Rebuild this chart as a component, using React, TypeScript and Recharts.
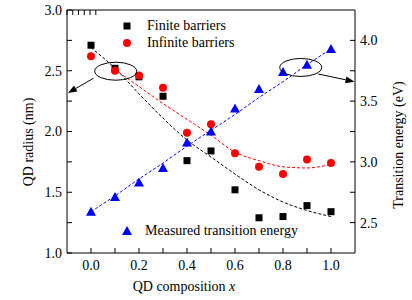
import { ComposedChart, Scatter, Line, XAxis, YAxis, ReferenceDot, ReferenceLine, Label } from 'recharts';

const composition = [0, 0.1, 0.2, 0.3, 0.4, 0.5, 0.6, 0.7, 0.8, 0.9, 1.0];
const finiteBarriers = [2.71, 2.52, 2.45, 2.29, 1.76, 1.84, 1.52, 1.29, 1.30, 1.39, 1.34];
const infiniteBarriers = [2.62, 2.50, 2.46, 2.36, 1.99, 2.06, 1.82, 1.71, 1.65, 1.77, 1.74];
const measuredEnergy = [2.59, 2.71, 2.83, 2.95, 3.16, 3.25, 3.44, 3.60, 3.74, 3.80, 3.93];
// dashed fit curves
const finiteFit = [2.69, 2.52, 2.31, 2.11, 1.93, 1.79, 1.65, 1.52, 1.42, 1.35, 1.30];
const infiniteFit = [null, 2.51, 2.37, 2.23, 2.10, 1.97, 1.83, 1.76, 1.71, 1.70, 1.73];
const energyFit = [2.59, 2.72, 2.86, 2.99, 3.13, 3.26, 3.39, 3.53, 3.66, 3.80, 3.93];

const xTicks = [0, 0.1, 0.2, 0.3, 0.4, 0.5, 0.6, 0.7, 0.8, 0.9, 1.0];
const radiusTicks = [1.0, 1.25, 1.5, 1.75, 2.0, 2.25, 2.5, 2.75, 3.0];
const energyTicks = [2.5, 2.75, 3.0, 3.25, 3.5, 3.75, 4.0];

const data = composition.map((x, i) => ({
  x,
  finite: finiteBarriers[i],
  infinite: infiniteBarriers[i],
  measured: measuredEnergy[i],
  finiteFit: finiteFit[i],
  infiniteFit: infiniteFit[i],
  energyFit: energyFit[i],
}));

const FONT = 'Liberation Serif, Times New Roman, serif';
const tickStyle = { fontSize: 14, fill: '#000', fontFamily: FONT };

const Square = (p: any) => <rect x={p.cx - 3.5} y={p.cy - 3.5} width={7} height={7} fill="#000" />;
const Dot = (p: any) => <circle cx={p.cx} cy={p.cy} r={4} fill="#ff0000" />;
const Tri = (p: any) => (
  <polygon points={`${p.cx},${p.cy - 5} ${p.cx + 5},${p.cy + 4} ${p.cx - 5},${p.cy + 4}`} fill="#0000ff" />
);
const Ellipse = (p: any) => <ellipse cx={p.cx} cy={p.cy} rx={21} ry={9} fill="none" stroke="#000" strokeWidth={1} />;

const Arrow = (p: any) => {
  const { x1, y1, x2, y2 } = p;
  const a = Math.atan2(y2 - y1, x2 - x1);
  const L = 9, W = 3.5;
  const bx = x2 - L * Math.cos(a);
  const by = y2 - L * Math.sin(a);
  const pts = `${x2},${y2} ${bx - W * Math.sin(a)},${by + W * Math.cos(a)} ${bx + W * Math.sin(a)},${by - W * Math.cos(a)}`;
  return (
    <g>
      <line x1={x1} y1={y1} x2={bx} y2={by} stroke="#000" strokeWidth={1} />
      <polygon points={pts} fill="#000" />
    </g>
  );
};

const fmtX = (v: number) => (Math.round(v * 10) % 2 === 0 ? v.toFixed(1) : '');
const fmtHalf = (v: number) => (Math.round(v * 100) % 50 === 0 ? v.toFixed(1) : '');

export default function App() {
  return (
    <div style={{ position: 'absolute', left: 0, top: 0, width: 412, height: 300, fontFamily: FONT }}>
      <ComposedChart width={412} height={300} data={data} margin={{ top: 9, right: 56, bottom: 46, left: 66 }}>
        <XAxis
          dataKey="x"
          type="number"
          domain={[-0.1, 1.1]}
          ticks={xTicks}
          tickFormatter={fmtX}
          tickSize={-5}
          tickMargin={12}
          height={1}
          stroke="#000"
          tick={tickStyle}
          allowDataOverflow
        >
          <Label
            content={() => (
              <text x={184} y={291} textAnchor="middle" fontSize={14} fontFamily={FONT} fill="#000">
                QD composition <tspan fontStyle="italic">x</tspan>
              </text>
            )}
          />
        </XAxis>
        <XAxis
          xAxisId="top"
          orientation="top"
          type="number"
          domain={[-0.1, 1.1]}
          ticks={xTicks}
          tickFormatter={() => ''}
          tickSize={-5}
          height={1}
          stroke="#000"
          allowDataOverflow
        />
        <YAxis
          yAxisId="left"
          domain={[1.0, 3.0]}
          ticks={radiusTicks}
          tickFormatter={fmtHalf}
          tickSize={-5}
          tickMargin={10}
          width={1}
          stroke="#000"
          tick={tickStyle}
          allowDataOverflow
        >
          <Label
            content={() => (
              <text x={28} y={142} textAnchor="middle" dominantBaseline="central" transform="rotate(-90, 28, 142)" fontSize={14} fontFamily={FONT} fill="#000">
                QD radius (nm)
              </text>
            )}
          />
        </YAxis>
        <YAxis
          yAxisId="right"
          orientation="right"
          domain={[2.25, 4.25]}
          ticks={energyTicks}
          tickFormatter={fmtHalf}
          tickSize={-5}
          tickMargin={10}
          width={1}
          stroke="#000"
          tick={tickStyle}
          allowDataOverflow
        >
          <Label
            content={() => (
              <text x={398} y={145} textAnchor="middle" dominantBaseline="central" transform="rotate(-90, 398, 145)" fontSize={14} fontFamily={FONT} fill="#000">
                Transition energy (eV)
              </text>
            )}
          />
        </YAxis>

        <Line yAxisId="left" dataKey="finiteFit" type="monotone" stroke="#000" strokeWidth={1} strokeDasharray="3 2" dot={false} isAnimationActive={false} />
        <Line yAxisId="left" dataKey="infiniteFit" type="monotone" stroke="#ff0000" strokeWidth={1} strokeDasharray="3 2" dot={false} isAnimationActive={false} />
        <Line yAxisId="right" dataKey="energyFit" type="linear" stroke="#0000ff" strokeWidth={1} strokeDasharray="3 2" dot={false} isAnimationActive={false} />

        <Scatter yAxisId="left" dataKey="finite" shape={Square} isAnimationActive={false} />
        <Scatter yAxisId="left" dataKey="infinite" shape={Dot} isAnimationActive={false} />
        <Scatter yAxisId="right" dataKey="measured" shape={Tri} isAnimationActive={false} />

        <ReferenceDot yAxisId="left" x={0.103} y={2.496} shape={Ellipse} />
        <ReferenceDot yAxisId="right" x={0.874} y={3.777} shape={Ellipse} />
        <ReferenceLine yAxisId="left" segment={[{ x: 0.01, y: 2.438 }, { x: -0.096, y: 2.317 }]} shape={Arrow} ifOverflow="visible" />
        <ReferenceLine yAxisId="right" segment={[{ x: 0.947, y: 3.723 }, { x: 1.098, y: 3.66 }]} shape={Arrow} ifOverflow="visible" />
      </ComposedChart>

      <div style={{ position: 'absolute', left: 0, top: 0, width: 412, height: 300, pointerEvents: 'none', fontSize: 14, color: '#000' }}>
        <svg style={{ position: 'absolute', left: 122, top: 21 }} width={10} height={10}>
          <rect x={1.5} y={1.5} width={7} height={7} fill="#000" />
        </svg>
        <div style={{ position: 'absolute', left: 147, top: 17, lineHeight: '18px' }}>Finite barriers</div>
        <svg style={{ position: 'absolute', left: 122, top: 38 }} width={10} height={10}>
          <circle cx={5} cy={5} r={4} fill="#ff0000" />
        </svg>
        <div style={{ position: 'absolute', left: 147, top: 34, lineHeight: '18px' }}>Infinite barriers</div>
        <svg style={{ position: 'absolute', left: 121, top: 225 }} width={12} height={12}>
          <polygon points="6,1 11,10 1,10" fill="#0000ff" />
        </svg>
        <div style={{ position: 'absolute', left: 145, top: 222, lineHeight: '18px' }}>Measured transition energy</div>
      </div>
    </div>
  );
}
